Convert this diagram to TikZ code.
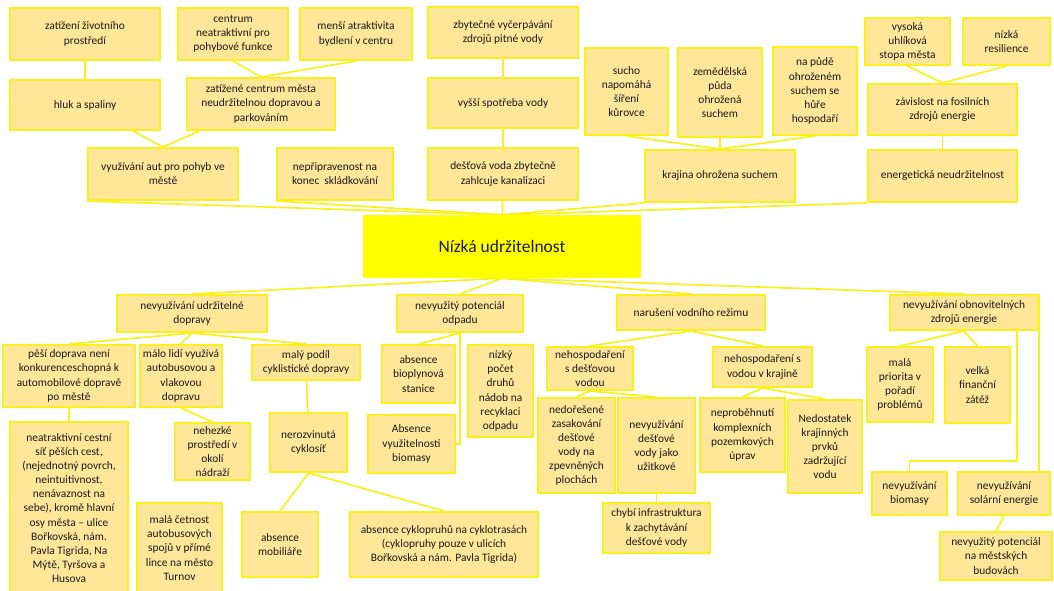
\documentclass[tikz,border=0pt]{standalone}
\usepackage{fontspec}
\setmainfont{Carlito}
\usetikzlibrary{backgrounds,calc}
\definecolor{boxfill}{HTML}{FFE699}
\definecolor{boxline}{RGB}{250,240,30}
\definecolor{centrefill}{HTML}{FFFF00}
\definecolor{txt}{HTML}{1A1A1A}
\tikzset{
  box/.style={draw=boxline, line width=2pt, fill=boxfill, align=center, inner sep=1.5pt,
    text=txt, font=\fontsize{11.4}{14.1}\selectfont},
  conn/.style={draw=boxline, line width=1.7pt},
}
\newcommand{\mybox}[6]{\node[box, minimum width=#4, minimum height=#5] (#1) at (#2,#3) {#6};}
\begin{document}
\begin{tikzpicture}[x=1pt,y=-1pt]
\useasboundingbox (0,0) rectangle (1054,590);
% top part
\mybox{zp}{85}{34}{150}{52}{zatížení životního\\prostředí}
\mybox{hluk}{85}{105}{150}{50}{hluk a spaliny}
\mybox{cen}{233}{34}{110}{52}{centrum\\neatraktivní pro\\pohybové funkce}
\mybox{mens}{356}{34}{112}{52}{menší atraktivita\\bydlení v centru}
\mybox{zcm}{261}{104}{148}{52}{zatížené centrum města\\neudržitelnou dopravou a\\parkováním}
\mybox{aut}{163}{174}{150}{52}{využívání aut pro pohyb ve\\městě}
\mybox{skl}{335}{174}{116}{52}{nepřipravenost na\\konec~ skládkování}
\mybox{pit}{503}{32.5}{150}{51}{zbytečné vyčerpávání\\zdrojů pitné vody}
\mybox{spo}{503}{103}{150}{50}{vyšší spotřeba vody}
\mybox{des}{503}{174}{150}{52}{dešťová voda zbytečně\\zahlcuje kanalizaci}
\mybox{kur}{626.5}{91.5}{83}{87}{sucho\\napomáhá\\šíření\\kůrovce}
\mybox{zem}{720}{92.5}{84}{89}{zemědělská\\půda\\ohrožená\\suchem}
\mybox{pud}{815}{91}{84}{88}{na půdě\\ohroženém\\suchem se\\hůře\\hospodaří}
\mybox{kra}{720}{176}{150}{52}{krajina ohrožena suchem}
\mybox{uhl}{907.5}{41.5}{85}{47}{vysoká\\uhlíková\\stopa města}
\mybox{res}{1006.5}{41.5}{87}{47}{nízká\\resilience}
\mybox{fos}{942.5}{109.5}{149}{51}{závislost na fosilních\\zdrojů energie}
\mybox{ene}{942.5}{176}{149}{52}{energetická neudržitelnost}
% centre
\node[fill=centrefill, minimum width=278, minimum height=63, inner sep=0pt, text=txt,
  font=\fontsize{17.5}{20}\selectfont] (c) at (502,246.5) {Nízká udržitelnost};
% bottom part
\mybox{dop}{192}{313.5}{150}{37}{nevyužívání udržitelné\\dopravy}
\mybox{pes}{69}{376}{132}{62}{pěší doprava není\\konkurenceschopná k\\automobilové dopravě\\po městě}
\mybox{mal}{181}{376}{82}{62}{málo lidí využívá\\autobusovou a\\vlakovou\\dopravu}
\mybox{cyk}{306}{362.5}{108}{35}{malý podíl\\cyklistické dopravy}
\mybox{nea}{69}{508}{118}{172}{neatraktivní cestní\\síť pěších cest,\\(nejednotný povrch,\\neintuitivnost,\\nenávaznost na\\sebe), kromě hlavní\\osy města – ulice\\Bořkovská, nám.\\Pavla Tigrida, Na\\Mýtě, Tyršova a\\Husova}
\mybox{neh}{212.5}{451.5}{75}{57}{nehezké\\prostředí v\\okolí\\nádraží}
\mybox{cet}{179.5}{548}{85}{90}{malá četnost\\autobusových\\spojů v přímé\\lince na město\\Turnov}
\mybox{ner}{308.5}{442.5}{77}{59}{nerozvinutá\\cyklosíť}
\mybox{mob}{280}{544.5}{76}{65}{absence\\mobiliáře}
\mybox{cpr}{444}{544.5}{188}{65}{absence cyklopruhů na cyklotrasách\\(cyklopruhy pouze v ulicích\\Bořkovská a nám. Pavla Tigrida)}
\mybox{odp}{460}{313.5}{126}{37}{nevyužitý potenciál\\odpadu}
\mybox{bio}{418.5}{374}{73}{58}{absence\\bioplynová\\stanice}
\mybox{nad}{500.5}{391}{65}{92}{nízký\\počet\\druhů\\nádob na\\recyklaci\\odpadu}
\mybox{bim}{411.5}{444}{87}{58}{Absence\\využitelnosti\\biomasy}
\mybox{vod}{691}{312.5}{148}{35}{narušení vodního režimu}
\mybox{dest}{590}{368.5}{86}{43}{nehospodaření\\s dešťovou\\vodou}
\mybox{zas}{576.5}{445.5}{77}{95}{nedořešené\\zasakování\\dešťové\\vody na\\zpevněných\\plochách}
\mybox{uzi}{656.5}{445.5}{77}{95}{nevyužívání\\dešťové\\vody jako\\užitkové}
\mybox{inf}{656.5}{528}{107}{50}{chybí infrastruktura\\k zachytávání\\dešťové vody}
\mybox{kraj}{762.5}{367}{99}{40}{nehospodaření s\\vodou v krajině}
\mybox{poz}{742.5}{435}{85}{74}{neproběhnutí\\komplexních\\pozemkových\\úprav}
\mybox{prv}{825}{446.5}{74}{93}{Nedostatek\\krajinných\\prvků\\zadržující\\vodu}
\mybox{obn}{964}{312.5}{148}{35}{nevyužívání obnovitelných\\zdrojů energie}
\mybox{pri}{900}{384.5}{66}{75}{malá\\priorita v\\pořadí\\problémů}
\mybox{fin}{977.5}{385}{65}{76}{velká\\finanční\\zátěž}
\mybox{bms}{909.5}{493.5}{75}{43}{nevyužívání\\biomasy}
\mybox{sol}{1004}{493.5}{92}{43}{nevyužívání\\solární energie}
\mybox{bud}{996}{556}{112}{48}{nevyužitý potenciál\\na městských\\budovách}
% connectors
\begin{scope}[on background layer]
\fill[white] (0,0) rectangle (1054,590);
\draw[conn] (zp.center) -- (hluk.center);
\draw[conn] (cen.south) -- (zcm.north);
\draw[conn] (mens.south) -- (zcm.north);
\draw[conn] (hluk.center) -- (aut.north);
\draw[conn] (zcm.center) -- (aut.north);
\draw[conn] (pit.center) -- (spo.center);
\draw[conn] (spo.center) -- (des.center);
\draw[conn] (kur.south) -- (kra.north);
\draw[conn] (zem.center) -- (kra.center);
\draw[conn] (pud.south) -- (kra.north);
\draw[conn] (uhl.south) -- (fos.north);
\draw[conn] (res.south) -- (fos.north);
\draw[conn] (fos.center) -- (ene.center);
\draw[conn] (aut.south west) -- (c.north);
\draw[conn] (skl.south west) -- (c.north);
\draw[conn] (des.center) -- (c.center);
\draw[conn] (kra.south west) -- (c.north);
\draw[conn] (ene.south west) -- (c.north);
\draw[conn] (c.south) -- (dop.north);
\draw[conn] (c.south) -- (odp.north);
\draw[conn] (c.south) -- (vod.north);
\draw[conn] (c.south) -- (obn.north);
\draw[conn] (dop.south) -- (pes.north);
\draw[conn] (dop.south) -- (mal.north);
\draw[conn] (dop.south) -- (cyk.north);
\draw[conn] (pes.center) -- (nea.center);
\draw[conn] (mal.south) -- (neh.north);
\draw[conn] ($(mal.south)+(-11,0)$) -- ($(mal.south)+(-11,0)$ |- cet.north);
\draw[conn] (cyk.center) -- (ner.center);
\draw[conn] (ner.south) -- (mob.north);
\draw[conn] (ner.south) -- (cpr.north);
\draw[conn] (odp.south) -- (bio.north);
\draw[conn] (odp.south) -- (odp.south |- bim.east) -- (bim.east);
\draw[conn] (vod.south) -- (dest.north);
\draw[conn] (vod.south) -- (kraj.north);
\draw[conn] (dest.south) -- (zas.north);
\draw[conn] (dest.south) -- (uzi.north);
\draw[conn] (uzi.center) -- (inf.center);
\draw[conn] (kraj.south) -- (poz.north);
\draw[conn] (kraj.south) -- (prv.north);
\draw[conn] (obn.south) -- (pri.north);
\draw[conn] (obn.south) -- (fin.north);
\draw[conn] ($(obn.south)+(53,0)$) |- ($(bms.north)+(0,-10)$) -- (bms.north);
\draw[conn] (obn.north east) -- (obn.north east |- sol.north);
\draw[conn] (sol.south) -- (bud.north);
\end{scope}
\end{tikzpicture}
\end{document}
